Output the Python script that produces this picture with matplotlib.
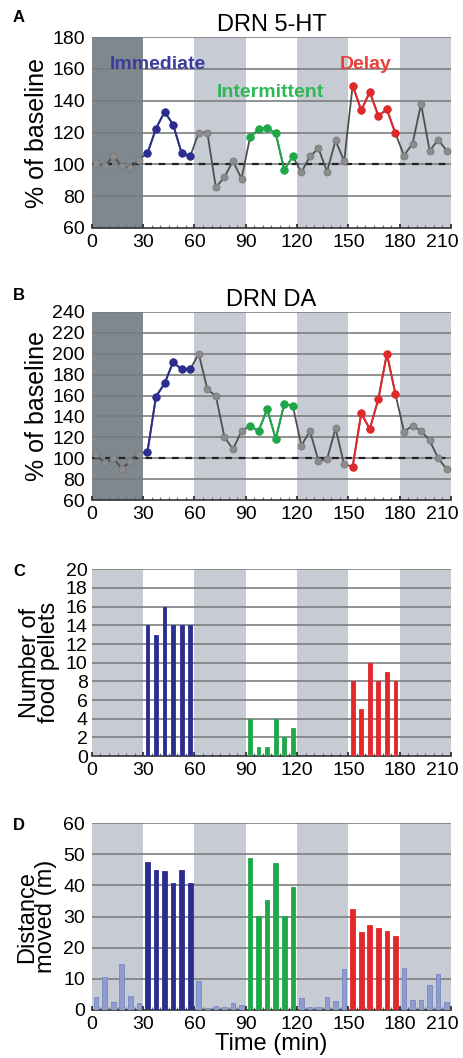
import numpy as np
import matplotlib
matplotlib.use("Agg")
import matplotlib.pyplot as plt
from matplotlib.ticker import MultipleLocator
from matplotlib.transforms import ScaledTranslation

plt.rcParams['font.family'] = ['Liberation Sans', 'DejaVu Sans']

# Sample times: midpoints of 5-min bins
time_min = np.arange(2.5, 210, 5.0)

# DRN 5-HT (% of baseline)
serotonin = [101, 99, 105, 99, 97.5, 103,
             107, 122.5, 133, 125, 107, 105,
             120, 120, 85.5, 92, 102, 91,
             117, 122, 123, 119.5, 96.5, 105,
             95, 105, 110, 95.5, 115, 102,
             149.5, 134, 145.5, 130.5, 134.5, 119.5,
             105.5, 113, 138, 108.5, 115.5, 108.5]

# DRN DA (% of baseline)
dopamine = [104, 95, 100, 90, 97, 104.5,
            106, 159, 171.5, 192, 185, 185,
            200, 166, 159.5, 120.5, 108.5, 126,
            131, 126, 147, 118.5, 152, 150,
            112, 126, 97.5, 99, 128.5, 94,
            92, 143, 128, 156.5, 200, 161.5,
            125.5, 131, 126, 117, 100, 89.5]

# Food pellets delivered per bin (only during feeding blocks)
pellets = [0, 0, 0, 0, 0, 0,
           14, 13, 16, 14, 14, 14,
           0, 0, 0, 0, 0, 0,
           4, 1, 1, 4, 2, 3,
           0, 0, 0, 0, 0, 0,
           8, 5, 10, 8, 9, 8,
           0, 0, 0, 0, 0, 0]

# Distance moved per bin (m)
distance = [4.3, 10.5, 2.4, 14.8, 4.6, 2.1,
            47.4, 44.9, 44.7, 40.8, 45.0, 40.7,
            9.3, 0.6, 1.2, 1.1, 2.1, 1.6,
            48.9, 30.3, 35.2, 47.2, 30.3, 39.4,
            4.0, 0.8, 1.0, 4.1, 3.0, 13.1,
            32.6, 25.0, 27.2, 26.3, 25.4, 23.7,
            13.4, 3.2, 3.2, 8.0, 11.5, 2.4]

# Feeding schedules
block_names = ["Immediate", "Intermittent", "Delay"]
block_starts = [30, 90, 150]
block_colors = ["#2a2f8f", "#1fa84a", "#e2282b"]
label_colors = ["#3a3d9c", "#2db856", "#e8413b"]

x_ticks = [0, 30, 60, 90, 120, 150, 180, 210]

BAND_GRAY = "#c6cbd4"
BAND_DARK = "#7f878f"
GRID = "#7a7a7a"
LINE_GRAY = "#4f4f4f"
MARK_GRAY = "#8c8c8c"
BAR_PALE = "#8f9ccf"

fig = plt.figure(figsize=(4.64, 10.58), dpi=100)

left, width = 0.198, 0.774
boxes = [
    (left, 0.7845, width, 0.1805),
    (left, 0.5274, width, 0.1778),
    (left, 0.2854, width, 0.1765),
    (left, 0.0454, width, 0.1765),
]


def frame(ax, ymin, ymax, ystep, dark_baseline):
    ax.set_xlim(0, 210)
    ax.set_ylim(ymin, ymax)
    for s in range(0, 210, 60):
        shade = BAND_DARK if (s == 0 and dark_baseline) else BAND_GRAY
        ax.axvspan(s, s + 30, color=shade, lw=0, zorder=0)
    for s in range(30, 210, 60):
        ax.axvspan(s, s + 30, color="white", lw=0, zorder=0)
    for yv in np.arange(ymin + ystep, ymax + ystep / 2, ystep):
        ax.axhline(yv, color=GRID, lw=1.15, zorder=1)
    ax.set_yticks(np.arange(ymin, ymax + ystep / 2, ystep))
    ax.set_xticks(x_ticks)
    ax.xaxis.set_minor_locator(MultipleLocator(5))
    ax.tick_params(axis="x", which="major", direction="in", length=3,
                   width=1.2, color="#222222", labelsize=14, pad=4)
    ax.tick_params(axis="x", which="minor", direction="in", length=2,
                   width=0.8, color="#666666")
    ax.tick_params(axis="y", length=0, labelsize=14, pad=5)
    for side in ("left", "right", "top"):
        ax.spines[side].set_visible(False)
    ax.spines["bottom"].set_color("#333333")
    ax.spines["bottom"].set_linewidth(1.2)
    # keep the last time label inside the figure
    last = ax.get_xticklabels()[-1]
    last.set_transform(last.get_transform()
                       + ScaledTranslation(-9 / 100, 0, fig.dpi_scale_trans))


def trace(ax, values):
    ax.plot(time_min, values, color=LINE_GRAY, lw=1.3, marker="o", ms=5,
            mfc=MARK_GRAY, mec="#7a7a7a", mew=0.6, zorder=3)
    for start, col in zip(block_starts, block_colors):
        idx = (time_min > start) & (time_min < start + 30)
        ax.plot(time_min[idx], np.asarray(values)[idx], color=col, lw=1.4,
                marker="o", ms=5, mfc=col, mec=col, zorder=4)
    ax.axhline(100, color="#222222", lw=1.6, ls=(0, (3, 3)), zorder=2)


# Panel A
axA = fig.add_axes(boxes[0])
frame(axA, 60, 180, 20, True)
trace(axA, serotonin)
axA.set_title("DRN 5-HT", fontsize=17, pad=4)
axA.set_ylabel("% of baseline", fontsize=18, labelpad=2)
label_pos = [(10.5, 163), (73, 145), (145, 163)]
for name, (tx, ty), col in zip(block_names, label_pos, label_colors):
    axA.text(tx, ty, name, color=col, fontsize=14, fontweight="bold",
             ha="left", va="center", zorder=5)

# Panel B
axB = fig.add_axes(boxes[1])
frame(axB, 60, 240, 20, True)
trace(axB, dopamine)
axB.set_title("DRN DA", fontsize=17, pad=4)
axB.set_ylabel("% of baseline", fontsize=18, labelpad=2)


def block_bars(ax, values, width, pale=None):
    vals = np.asarray(values)
    colors = []
    for t in time_min:
        c = pale
        for start, col in zip(block_starts, block_colors):
            if start < t < start + 30:
                c = col
        colors.append(c)
    for t, v, c in zip(time_min, vals, colors):
        if c is None or v <= 0:
            continue
        edge = "#7887c2" if c == pale else c
        ax.bar(t, v, width=width, color=c, edgecolor=edge, lw=0.6, zorder=3)


# Panel C
axC = fig.add_axes(boxes[2])
frame(axC, 0, 20, 2, False)
block_bars(axC, pellets, 2.2)
axC.set_ylabel("Number of\nfood pellets", fontsize=17, labelpad=4,
               linespacing=0.85)
axC.tick_params(axis="y", labelsize=14, pad=3)

# Panel D
axD = fig.add_axes(boxes[3])
frame(axD, 0, 60, 10, False)
block_bars(axD, distance, 2.7, pale=BAR_PALE)
axD.set_ylabel("Distance\nmoved (m)", fontsize=17, labelpad=4,
               linespacing=0.85)
axD.set_xlabel("Time (min)", fontsize=17, labelpad=0)

# Panel letters, placed in figure pixels
H = 1058.0
for letter, ypx in zip("ABCD", [18, 295, 571, 826]):
    fig.text(13 / 464, 1 - ypx / H, letter, fontsize=12, fontweight="bold",
             ha="left", va="center")

fig.savefig("out.png", dpi=100)
